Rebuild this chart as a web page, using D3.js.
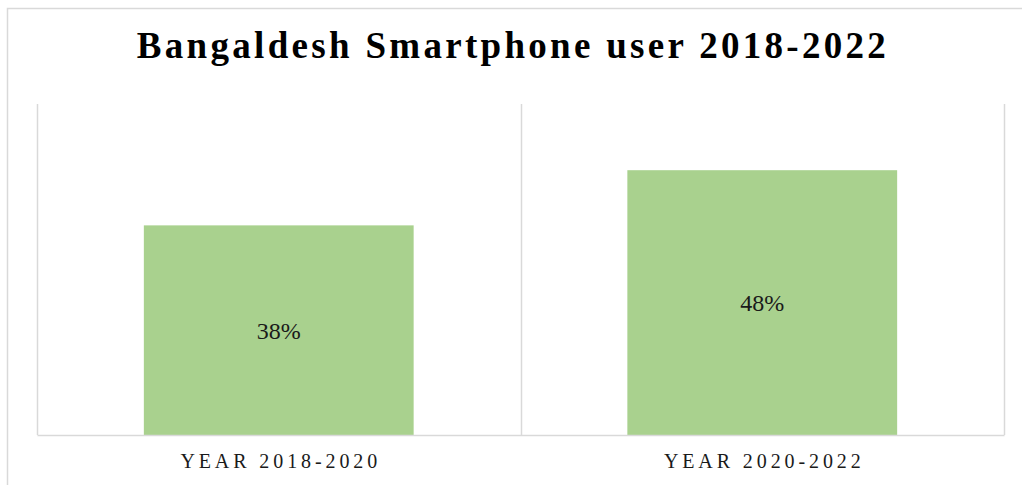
<!DOCTYPE html>
<html>
<head>
<meta charset="utf-8">
<script src="https://cdn.jsdelivr.net/npm/d3@7/dist/d3.min.js"></script>
<style>
  html, body { margin: 0; padding: 0; background: #fff; }
  svg { display: block; }
</style>
</head>
<body>
<svg id="chart" width="1022" height="485"></svg>
<script>
// Smartphone user share by period
const categories = ["YEAR 2018-2020", "YEAR 2020-2022"];
const shareValues = [0.38, 0.48];
const chartTitle = "Bangaldesh Smartphone user 2018-2022";

const svg = d3.select("#chart");
const W = 1022, H = 485;
const plot = { left: 37, right: 1004, top: 104, bottom: 435 };
const gridColor = "#d9d9d9";
const barColor = "#a9d18e";
const serif = "'Liberation Serif', 'Times New Roman', Times, serif";

// outer chart frame
svg.append("rect")
  .attr("x", 7.5).attr("y", 8.5)
  .attr("width", W + 20).attr("height", H + 20)
  .attr("fill", "#fff")
  .attr("stroke", gridColor).attr("stroke-width", 1.5);

const x = d3.scaleBand()
  .domain(categories)
  .range([plot.left, plot.right])
  .padding(0);

const y = d3.scaleLinear()
  .domain([0, 0.6])
  .range([plot.bottom, plot.top]);

// vertical gridlines at category boundaries
const bounds = categories.map(c => x(c)).concat([x(categories[categories.length - 1]) + x.bandwidth()]);
svg.append("g").selectAll("line")
  .data(bounds)
  .join("line")
  .attr("x1", d => Math.round(d) + 0.5).attr("x2", d => Math.round(d) + 0.5)
  .attr("y1", plot.top).attr("y2", plot.bottom)
  .attr("stroke", gridColor).attr("stroke-width", 1.5);

// bars
const barFrac = 0.558;
const barW = x.bandwidth() * barFrac;
svg.append("g").selectAll("rect")
  .data(categories)
  .join("rect")
  .attr("x", (d) => x(d) + (x.bandwidth() - barW) / 2)
  .attr("width", barW)
  .attr("y", (d, i) => y(shareValues[i]))
  .attr("height", (d, i) => y(0) - y(shareValues[i]))
  .attr("fill", barColor);

// category axis
const xAxis = svg.append("g")
  .attr("transform", `translate(0,${plot.bottom})`)
  .call(d3.axisBottom(x).tickSize(0).tickPadding(0));
xAxis.select(".domain")
  .attr("stroke", gridColor).attr("stroke-width", 1.5);
xAxis.selectAll(".tick text")
  .attr("y", 33)
  .attr("dy", 0)
  .attr("dx", 2)
  .attr("font-family", serif)
  .attr("font-size", 20)
  .attr("letter-spacing", "3.9px")
  .attr("fill", "#1a1a1a");

// value labels in the middle of each bar
svg.append("g").selectAll("text")
  .data(categories)
  .join("text")
  .attr("x", d => x(d) + x.bandwidth() / 2)
  .attr("y", (d, i) => (y(shareValues[i]) + y(0)) / 2)
  .attr("dy", "0.35em")
  .attr("text-anchor", "middle")
  .attr("font-family", serif)
  .attr("font-size", 24)
  .attr("fill", "#1a1a1a")
  .text((d, i) => d3.format(".0%")(shareValues[i]));

// title
svg.append("text")
  .attr("x", W / 2 + 2)
  .attr("y", 58)
  .attr("text-anchor", "middle")
  .attr("font-family", serif)
  .attr("font-weight", "bold")
  .attr("font-size", 37)
  .attr("letter-spacing", "3.3px")
  .attr("fill", "#000")
  .text(chartTitle);
</script>
</body>
</html>
